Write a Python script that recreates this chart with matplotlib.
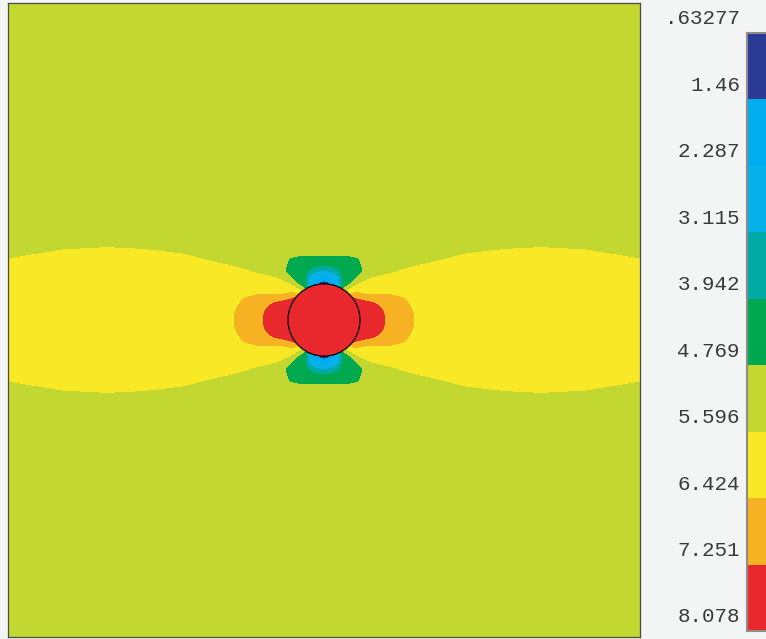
import numpy as np
import matplotlib
matplotlib.use('Agg')
import matplotlib.pyplot as plt
from matplotlib.patches import Circle
from matplotlib.transforms import ScaledTranslation, blended_transform_factory

# contour levels and legend text (as printed on the legend bar)
levels = [0.63277, 1.46, 2.287, 3.115, 3.942, 4.769, 5.596, 6.424, 7.251, 8.078]
level_labels = ['.63277', '1.46', '2.287', '3.115', '3.942', '4.769',
                '5.596', '6.424', '7.251', '8.078']
band_colors = ['#2b3a93', '#00aeef', '#06b1ea', '#00aba5', '#00a84f',
               '#c2d830', '#f8e825', '#f6b222', '#e8282c']

# plate half width = 1, fibre in the middle
fiber_radius = 0.114

# quarter model (symmetric about both axes), polar sample points
angles = [0, 5, 10, 15, 20, 25, 30, 35, 40, 45, 50, 55, 60, 65, 70, 75, 80, 85, 90]
radii = [0.114, 0.127, 0.142, 0.158, 0.174, 0.196, 0.222, 0.253, 0.285,
         0.332, 0.396, 0.475, 0.585, 0.728, 0.886, 1.076, 1.424]

# values, one row per angle, one column per radius
field_quarter = [
    [8.0, 7.9, 7.8, 7.6, 7.45, 7.22, 6.95, 6.68, 6.42, 6.25, 6.15, 6.1, 6.05, 6.0, 6.0, 6.0, 6.0],
    [8.0, 7.9, 7.78, 7.6, 7.43, 7.2, 6.93, 6.66, 6.4, 6.22, 6.12, 6.08, 6.03, 5.98, 5.95, 5.9, 5.75],
    [8.0, 7.85, 7.72, 7.55, 7.38, 7.17, 6.88, 6.6, 6.34, 6.15, 6.06, 6.02, 5.98, 5.9, 5.8, 5.58, 5.3],
    [7.95, 7.8, 7.65, 7.48, 7.29, 7.06, 6.8, 6.5, 6.26, 6.08, 5.98, 5.94, 5.9, 5.78, 5.55, 5.35, 5.2],
    [7.9, 7.7, 7.5, 7.3, 7.12, 6.88, 6.5, 6.22, 6.08, 5.98, 5.9, 5.82, 5.7, 5.5, 5.3, 5.22, 5.2],
    [7.8, 7.55, 7.25, 7.0, 6.7, 6.35, 6.12, 6.0, 5.93, 5.85, 5.75, 5.62, 5.45, 5.3, 5.22, 5.2, 5.2],
    [7.6, 7.3, 6.95, 6.45, 6.25, 6.1, 6.0, 5.9, 5.8, 5.63, 5.45, 5.3, 5.22, 5.2, 5.2, 5.2, 5.2],
    [7.4, 7.0, 6.5, 6.2, 6.05, 5.92, 5.8, 5.6, 5.45, 5.32, 5.25, 5.2, 5.2, 5.2, 5.2, 5.2, 5.2],
    [7.15, 6.6, 6.25, 6.05, 5.9, 5.7, 5.5, 5.35, 5.28, 5.22, 5.2, 5.2, 5.2, 5.2, 5.2, 5.2, 5.2],
    [6.4, 6.1, 5.85, 5.65, 5.5, 5.35, 5.25, 5.2, 5.2, 5.2, 5.2, 5.2, 5.2, 5.2, 5.2, 5.2, 5.2],
    [5.75, 5.58, 5.4, 5.15, 4.9, 4.8, 4.88, 5.05, 5.15, 5.2, 5.2, 5.2, 5.2, 5.2, 5.2, 5.2, 5.2],
    [5.3, 4.9, 4.6, 4.5, 4.5, 4.65, 4.9, 5.05, 5.15, 5.2, 5.2, 5.2, 5.2, 5.2, 5.2, 5.2, 5.2],
    [4.3, 4.35, 4.4, 4.42, 4.45, 4.55, 4.75, 5.0, 5.12, 5.18, 5.2, 5.2, 5.2, 5.2, 5.2, 5.2, 5.2],
    [2.8, 3.5, 4.05, 4.3, 4.4, 4.5, 4.78, 5.0, 5.12, 5.18, 5.2, 5.2, 5.2, 5.2, 5.2, 5.2, 5.2],
    [2.2, 2.5, 3.0, 3.9, 4.3, 4.5, 4.85, 5.05, 5.15, 5.2, 5.2, 5.2, 5.2, 5.2, 5.2, 5.2, 5.2],
    [1.7, 2.1, 2.7, 3.5, 4.25, 4.55, 4.95, 5.1, 5.18, 5.2, 5.2, 5.2, 5.2, 5.2, 5.2, 5.2, 5.2],
    [1.4, 1.8, 2.5, 3.3, 4.15, 4.62, 5.05, 5.12, 5.18, 5.2, 5.2, 5.2, 5.2, 5.2, 5.2, 5.2, 5.2],
    [1.1, 1.65, 2.4, 3.2, 4.1, 4.62, 5.05, 5.12, 5.18, 5.2, 5.2, 5.2, 5.2, 5.2, 5.2, 5.2, 5.2],
    [1.0, 1.6, 2.35, 3.15, 4.05, 4.62, 5.05, 5.12, 5.18, 5.2, 5.2, 5.2, 5.2, 5.2, 5.2, 5.2, 5.2],
]

# expand the quarter model to the full plate by symmetry
th = np.array(angles, dtype=float)
vals = np.array(field_quarter)
ang_full = np.concatenate([th, 180 - th[::-1][1:], 180 + th[1:], 360 - th[::-1][1:]])
val_full = np.concatenate([vals, vals[::-1][1:], vals[1:], vals[::-1][1:]])
R, A = np.meshgrid(radii, np.deg2rad(ang_full))
X = R * np.cos(A)
Y = R * np.sin(A)

W, H = 766, 639
fig = plt.figure(figsize=(W / 100, H / 100), dpi=100, facecolor='#f3f4f4')

ax = fig.add_axes([8 / W, 2 / H, 632 / W, 634 / H])
cs = ax.contourf(X, Y, val_full, levels=levels, colors=band_colors)
ax.add_patch(Circle((0, 0), fiber_radius, facecolor=band_colors[-1],
                    edgecolor='black', lw=0.9, zorder=3))
ax.set_xlim(-1, 1)
ax.set_ylim(-1, 1)
ax.set_xticks([])
ax.set_yticks([])
for s in ax.spines.values():
    s.set_color('#4a4a4a')
    s.set_linewidth(0.9)

# legend bar on the right (low values on top)
cax = fig.add_axes([747 / W, 8 / H, 30 / W, 598 / H])
cb = fig.colorbar(cs, cax=cax, ticks=[])
cax.invert_yaxis()
cb.outline.set_edgecolor('#8c8c8c')
cb.outline.set_linewidth(1.5)

tr = blended_transform_factory(cax.transAxes, cax.transData)
tr = tr + ScaledTranslation(-0.07, 0.14, fig.dpi_scale_trans)
for lev, lab in zip(levels, level_labels):
    cax.text(0, lev, lab, transform=tr, ha='right', va='center',
             fontsize=15, family='Liberation Mono', color='#3a3a3a')

fig.savefig('out.png', dpi=100, facecolor=fig.get_facecolor())
